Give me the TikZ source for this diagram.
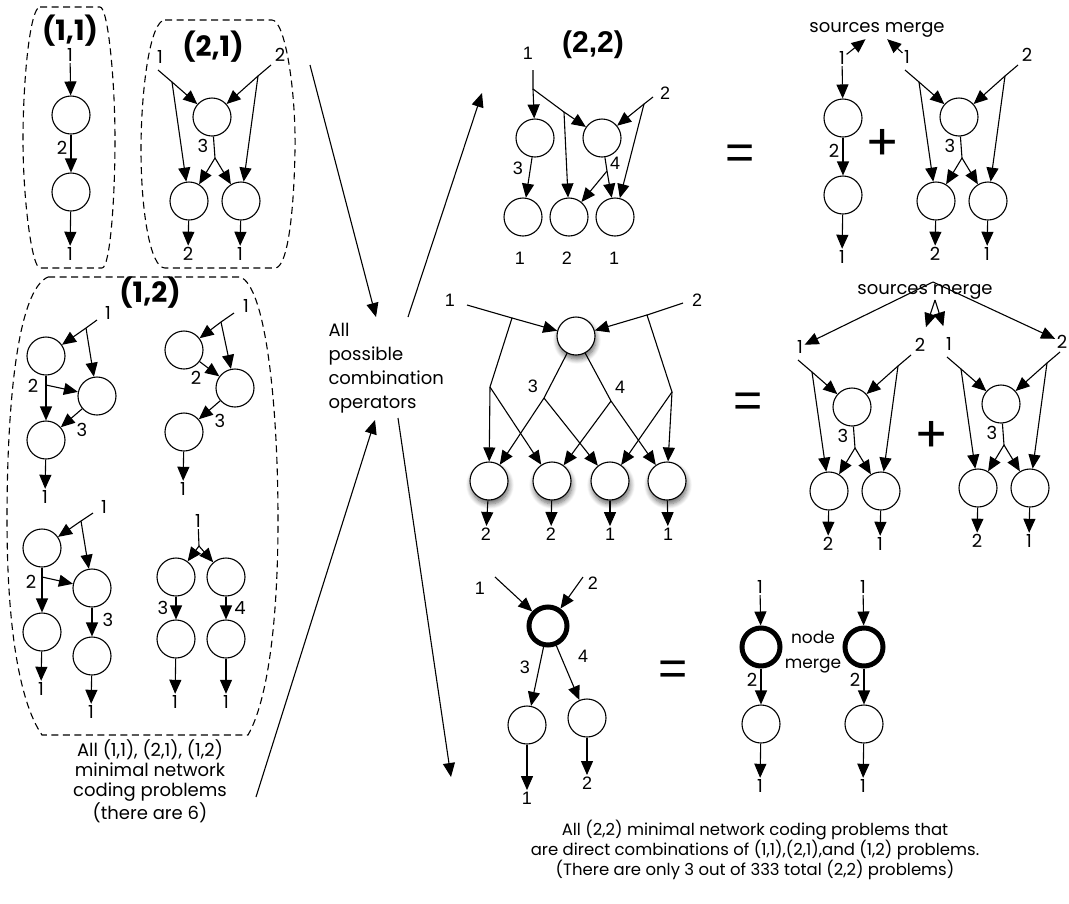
\documentclass[tikz,border=0pt]{standalone}
\usepackage{fontspec}
\setmainfont{Poppins}
\newfontfamily\helv{Liberation Sans}
\usetikzlibrary{arrows.meta, shadows.blur}

\tikzset{
  nd/.style={circle, draw, fill=white, line width=1.1pt, minimum size=38pt, inner sep=0pt},
  lbl/.style={font=\fontsize{18}{18}\selectfont, inner sep=1.5pt},
  hlbl/.style={font=\helv\fontsize{18}{18}\selectfont, inner sep=1.5pt},
  ttl/.style={font=\bfseries\fontsize{28}{28}\selectfont},
  htl/.style={font=\helv\bfseries\fontsize{30}{30}\selectfont},
  capt/.style={font=\fontsize{16.5}{20}\selectfont, align=center},
  sym/.style={font=\helv\fontsize{50}{50}\selectfont},
  arr/.style={line width=1.1pt, -{Triangle[length=14pt,width=12pt]}},
  ln/.style={line width=1.1pt},
  box/.style={line width=1.1pt, dash pattern=on 7pt off 4.5pt},
  shd/.style={blur shadow={shadow xshift=1pt, shadow yshift=-4pt, shadow blur radius=5pt, shadow blur steps=8, shadow opacity=60}}
}

\begin{document}
\begin{tikzpicture}[x=1pt, y=-1pt]
\useasboundingbox (0,0) rectangle (1069,903);

% dashed boxes
\draw[box] (40,7) -- (100,7) .. controls (108,7) and (115,80) .. (115,140) .. controls (115,200) and (110,268) .. (102,268) -- (40,268) .. controls (32,268) and (23,200) .. (23,140) .. controls (23,80) and (30,7) .. (40,7) -- cycle;
\draw[box] (165,20) -- (272,20) .. controls (285,20) and (296,90) .. (295,150) .. controls (294,210) and (288,268) .. (275,268) -- (165,268) .. controls (150,268) and (141,210) .. (141,150) .. controls (141,90) and (150,20) .. (165,20) -- cycle;
\draw[box] (48,277) -- (240,277) .. controls (265,285) and (278,400) .. (278,520) .. controls (278,620) and (268,700) .. (248,735) -- (42,735) .. controls (18,700) and (7,620) .. (7,520) .. controls (7,400) and (18,290) .. (48,277) -- cycle;

\node[ttl] (t11) at (70,31) {(1,1)};
\node[ttl] (t21) at (213,47) {(2,1)};
\node[ttl] (t12) at (150,293) {(1,2)};

% (1,1) graphs
\foreach \dx/\dy/\lw/\n in {0/0/1.1pt/a, 772/3/1.1pt/b, 690/532/5pt/c, 793/532/5pt/d} {
  \begin{scope}[shift={(\dx,\dy)}]
    \node[lbl] (ui\n) at (70,55) {1};
    \node[nd, line width=\lw] (ua\n) at (71,115) {};
    \node[nd] (ub\n) at (71,192) {};
    \node[lbl] (ue\n) at (62,148) {2};
    \node[lbl] (uo\n) at (70,254) {1};
    \draw[arr] (ui\n) -- (ua\n);
    \draw[arr] (ua\n) -- (ub\n);
    \draw[arr] (ub\n) -- (uo\n);
  \end{scope}
}

% (2,1) graphs
\foreach \dx/\dy/\n/\rx in {0/0/a/280, 747/0/b/280, 640/290/c/280, 789/287/d/273} {
  \begin{scope}[shift={(\dx,\dy)}]
    \node[lbl] (tl\n) at (160,57) {1};
    \node[lbl] (tr\n) at (\rx,55) {2};
    \node[nd] (tc\n) at (212,117) {};
    \node[nd] (bl\n) at (189,201) {};
    \node[nd] (br\n) at (241,201) {};
    \node[lbl] (te\n) at (203,146) {3};
    \node[lbl] (ol\n) at (188,254) {2};
    \node[lbl] (or\n) at (240,254) {1};
    \coordinate (li\n) at (158,70);
    \coordinate (ls\n) at (172,82);
    \coordinate (ri\n) at (271,65);
    \coordinate (rs\n) at (258,76);
    \coordinate (ms\n) at (215,158);
    \draw[ln] (li\n) -- (ls\n);
    \draw[arr] (ls\n) -- (tc\n);
    \draw[arr] (ls\n) -- (bl\n);
    \draw[ln] (ri\n) -- (rs\n);
    \draw[arr] (rs\n) -- (tc\n);
    \draw[arr] (rs\n) -- (br\n);
    \draw[ln] (tc\n) -- (ms\n);
    \draw[arr] (ms\n) -- (bl\n);
    \draw[arr] (ms\n) -- (br\n);
    \draw[arr] (bl\n) -- (ol\n);
    \draw[arr] (br\n) -- (or\n);
  \end{scope}
}

% (1,2) graphs
\node[lbl] (sa) at (108,313) {1};
\node[nd] (a1) at (46,356) {};
\node[nd] (a2) at (97,396) {};
\node[nd] (a3) at (46,440) {};
\node[lbl] (ea) at (33,386) {2};
\node[lbl] (fa) at (82,430) {3};
\node[lbl] (oa) at (45,497) {1};
\coordinate (ai) at (97,320);
\coordinate (as) at (86,328);
\coordinate (ab) at (46,385);
\draw[ln] (ai) -- (as);
\draw[arr] (as) -- (a1);
\draw[arr] (as) -- (a2);
\draw[arr] (a1) -- (a3);
\draw[arr] (ab) -- (a2);
\draw[arr] (a2) -- (a3);
\draw[arr] (a3) -- (oa);

\node[lbl] (sb) at (246,306) {1};
\node[nd] (b1) at (184,350) {};
\node[nd] (b2) at (235,388) {};
\node[nd] (b3) at (184,432) {};
\node[lbl] (eb) at (196,378) {2};
\node[lbl] (fb) at (220,421) {3};
\node[lbl] (ob) at (183,489) {1};
\coordinate (bi) at (234,313);
\coordinate (bs) at (221,322);
\draw[ln] (bi) -- (bs);
\draw[arr] (bs) -- (b1);
\draw[arr] (bs) -- (b2);
\draw[arr] (b1) -- (b2);
\draw[arr] (b2) -- (b3);
\draw[arr] (b3) -- (ob);

\node[lbl] (sc) at (104,507) {1};
\node[nd] (c1) at (42,548) {};
\node[nd] (c2) at (92,588) {};
\node[nd] (c3) at (42,632) {};
\node[nd] (c4) at (92,656) {};
\node[lbl] (ec) at (31,582) {2};
\node[lbl] (fc) at (108,620) {3};
\node[lbl] (oc1) at (41,689) {1};
\node[lbl] (oc2) at (91,712) {1};
\coordinate (ci) at (93,513);
\coordinate (cs) at (81,521);
\coordinate (cb) at (42,577);
\draw[ln] (ci) -- (cs);
\draw[arr] (cs) -- (c1);
\draw[arr] (cs) -- (c2);
\draw[arr] (c1) -- (c3);
\draw[arr] (cb) -- (c2);
\draw[arr] (c2) -- (c4);
\draw[arr] (c3) -- (oc1);
\draw[arr] (c4) -- (oc2);

\node[lbl] (sd) at (198,521) {1};
\node[nd] (d1) at (176,577) {};
\node[nd] (d2) at (226,577) {};
\node[nd] (d3) at (176,639) {};
\node[nd] (d4) at (226,639) {};
\node[lbl] (ed) at (163,608) {3};
\node[lbl] (fd) at (240,608) {4};
\node[lbl] (od1) at (175,702) {1};
\node[lbl] (od2) at (226,702) {1};
\coordinate (ds) at (199,546);
\draw[ln] (sd) -- (ds);
\draw[arr] (ds) -- (d1);
\draw[arr] (ds) -- (d2);
\draw[arr] (d1) -- (d3);
\draw[arr] (d2) -- (d4);
\draw[arr] (d3) -- (od1);
\draw[arr] (d4) -- (od2);

\node[capt, font=\fontsize{18}{20}\selectfont] (cap1) at (150,781) {All (1,1), (2,1), (1,2)\\minimal network\\coding problems\\(there are 6)};

% combination operators
\node[font=\fontsize{18}{24}\selectfont, align=left, anchor=west] (ops) at (325,368) {All\\possible\\combination\\operators};
\coordinate (ga) at (310,65);
\coordinate (ta) at (376,317);
\coordinate (gb) at (408,317);
\coordinate (tb) at (482,93);
\coordinate (gc) at (256,797);
\coordinate (tc) at (375,420);
\coordinate (gd) at (398,418);
\coordinate (td) at (451,777);
\draw[arr] (ga) -- (ta);
\draw[arr] (gb) -- (tb);
\draw[arr] (gc) -- (tc);
\draw[arr] (gd) -- (td);

% (2,2) top
\node[htl] (t22) at (593,45) {(2,2)};
\node[hlbl] (h1l) at (528,53) {1};
\node[hlbl] (h2l) at (665,93) {2};
\node[nd] (n1) at (535,138) {};
\node[nd] (n2) at (602,138) {};
\node[nd] (m1) at (523,217) {};
\node[nd] (m2) at (569,217) {};
\node[nd] (m3) at (615,217) {};
\node[hlbl] (h3) at (518,168) {3};
\node[hlbl] (h4) at (615,163) {4};
\node[hlbl] (q1) at (520,258) {1};
\node[hlbl] (q2) at (567,258) {2};
\node[hlbl] (q3) at (614,258) {1};
\coordinate (h1i) at (533,70);
\coordinate (h1s) at (533,89);
\coordinate (h1t) at (564,112);
\coordinate (h2i) at (653,97);
\coordinate (h2s) at (644,104);
\coordinate (h4s) at (607,171);
\draw[ln] (h1i) -- (h1s) -- (h1t);
\draw[arr] (h1s) -- (n1);
\draw[arr] (h1t) -- (n2);
\draw[arr] (h1t) -- (m2);
\draw[ln] (h2i) -- (h2s);
\draw[arr] (h2s) -- (n2);
\draw[arr] (h2s) -- (m3);
\draw[arr] (n1) -- (m1);
\draw[ln] (n2) -- (h4s);
\draw[arr] (h4s) -- (m3);
\draw[arr] (h4s) -- (m2);
\node[sym] (eq1) at (740,157) {=};

\node[lbl, font=\fontsize{18}{18}\selectfont] (sm1) at (877,30) {sources merge};
\draw[arr] (uib) -- (sm1);
\draw[arr] (tlb) -- (sm1);
\node[font=\fontsize{50}{50}\selectfont] (pl1) at (883,145) {+};

% (2,2) middle
\node[hlbl] (g1l) at (450,300) {1};
\node[hlbl] (g2l) at (697,300) {2};
\node[nd, shd] (g0) at (576,336) {};
\foreach \x/\i in {489/1, 552/2, 610/3, 667/4} {
  \node[nd, shd] (g\i) at (\x,481) {};
}
\node[hlbl] (g3e) at (533,386) {3};
\node[hlbl] (g4e) at (620,387) {4};
\coordinate (gi1) at (467,305);
\coordinate (gs1) at (512,318);
\coordinate (gd1) at (490,387);
\coordinate (gi2) at (683,303);
\coordinate (gs2) at (647,315);
\coordinate (gd2) at (672,392);
\coordinate (gm3) at (544,398);
\coordinate (gm4) at (611,401);
\draw[ln] (gi1) -- (gs1) -- (gd1);
\draw[arr] (gs1) -- (g0);
\draw[arr] (gd1) -- (g1);
\draw[arr] (gd1) -- (g2);
\draw[ln] (gi2) -- (gs2) -- (gd2);
\draw[arr] (gs2) -- (g0);
\draw[arr] (gd2) -- (g4);
\draw[arr] (gd2) -- (g3);
\draw[ln] (g0) -- (gm3);
\draw[arr] (gm3) -- (g1);
\draw[arr] (gm3) -- (g3);
\draw[ln] (g0) -- (gm4);
\draw[arr] (gm4) -- (g4);
\draw[arr] (gm4) -- (g2);
\foreach \x/\i/\t in {486/1/2, 551/2/2, 610/3/1, 668/4/1} {
  \node[hlbl] (go\i) at (\x,534) {\t};
  \draw[arr] (g\i) -- (go\i);
}
\node[sym] (eq2) at (748,405) {=};

\node[lbl, font=\fontsize{18}{18}\selectfont] (sm2) at (925,292) {sources merge};
\coordinate (apex) at (933,282);
\coordinate (sp) at (935,300);
\draw[arr] (apex) -- (tlc);
\draw[arr] (apex) -- (trd);
\draw[arr, shorten >=10pt] (sp) -- (trc);
\draw[arr, shorten >=10pt] (sp) -- (tld);
\node[font=\fontsize{50}{50}\selectfont] (pl2) at (932,437) {+};

% (2,2) bottom
\node[hlbl] (k1l) at (480,588) {1};
\node[hlbl] (k2l) at (593,583) {2};
\node[nd, line width=5pt] (k0) at (548,626) {};
\node[nd] (k1) at (527,725) {};
\node[nd] (k2) at (587,718) {};
\node[hlbl] (k3) at (525,667) {3};
\node[hlbl] (k4) at (583,656) {4};
\node[hlbl] (ko1) at (527,798) {1};
\node[hlbl] (ko2) at (587,783) {2};
\coordinate (ki1) at (495,577);
\coordinate (ki2) at (583,577);
\draw[arr] (ki1) -- (k0);
\draw[arr] (ki2) -- (k0);
\draw[arr] (k0) -- (k1);
\draw[arr] (k0) -- (k2);
\draw[arr] (k1) -- (ko1);
\draw[arr] (k2) -- (ko2);
\node[sym] (eq3) at (673,673) {=};
\node[lbl, align=center, font=\fontsize{17}{25}\selectfont] (nm) at (813,652) {node\\merge};

\node[capt] (cap2) at (755,850) {All (2,2) minimal network coding problems that\\are direct combinations of (1,1),(2,1),and (1,2) problems.\\(There are only 3 out of 333 total (2,2) problems)};
\end{tikzpicture}
\end{document}
